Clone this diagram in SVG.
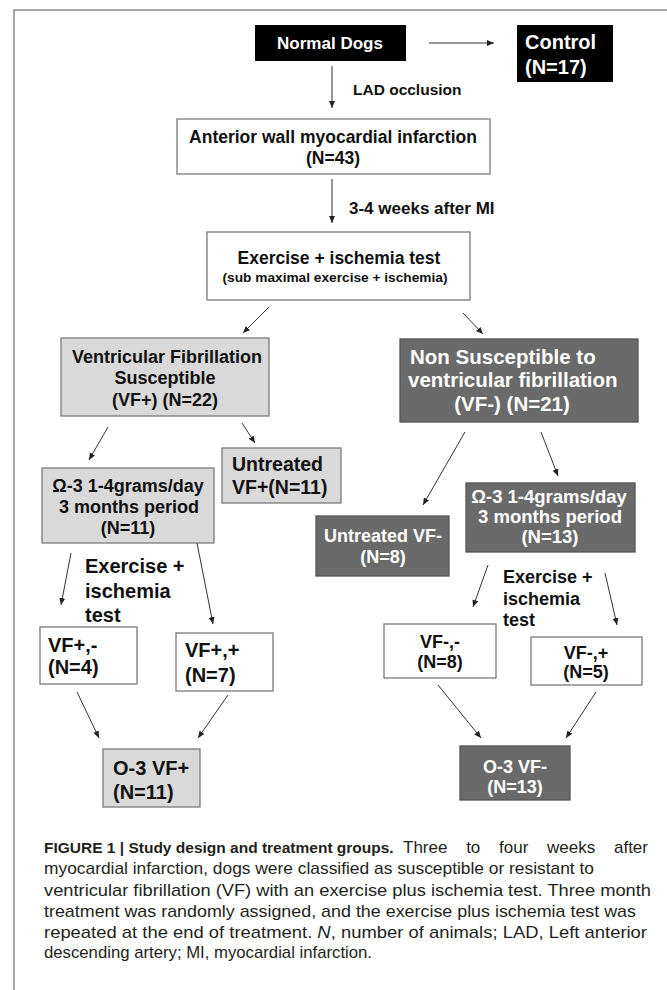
<svg xmlns="http://www.w3.org/2000/svg" width="667" height="990" viewBox="0 0 667 990">
<defs>
<marker id="ah" markerWidth="8" markerHeight="6" refX="7" refY="3" orient="auto" markerUnits="userSpaceOnUse"><path d="M0,0 L7,3 L0,6 z" fill="#222"/></marker>
</defs>
<style>
.t{font-family:"Liberation Sans",Arial,sans-serif;font-weight:bold;fill:#111}
.w{fill:#fff}
.m{text-anchor:middle}
.bw{fill:#fff;stroke:#7a7a7a;stroke-width:1.3}
.bl{fill:#d9d9d9;stroke:#7a7a7a;stroke-width:1.3}
.bd{fill:#6a6a6a;stroke:#555;stroke-width:1.3}
.bb{fill:#000}
.c line{stroke:#333;stroke-width:1;marker-end:url(#ah)}
.cap{font-family:"Liberation Sans",Arial,sans-serif;font-size:17px;fill:#231f20}
</style>
<rect width="667" height="990" fill="#fff"/>
<path d="M14,990 V10 H667" fill="none" stroke="#8a8a8a" stroke-width="1.5"/>

<g id="normal-dogs"><rect class="bb" x="255" y="25" width="151" height="36"/><text class="t w m" x="330" y="49" font-size="17">Normal Dogs</text></g>
<g id="control"><rect class="bb" x="517" y="25" width="96" height="57"/><text class="t w" x="525" y="49" font-size="20">Control</text><text class="t w" x="525" y="74" font-size="20">(N=17)</text></g>
<g id="anterior"><rect class="bw" x="177" y="119" width="313" height="55"/><text class="t m" x="333" y="143" font-size="17.5">Anterior wall myocardial infarction</text><text class="t m" x="333" y="164" font-size="17.5">(N=43)</text></g>
<g id="exercise"><rect class="bw" x="207" y="232" width="263" height="68"/><text class="t m" x="339" y="264" font-size="17.5">Exercise + ischemia test</text><text class="t m" x="335" y="282" font-size="13.5" textLength="225" lengthAdjust="spacingAndGlyphs">(sub maximal exercise + ischemia)</text></g>
<g id="vf-plus"><rect class="bl" x="61" y="338" width="208" height="78"/><text class="t m" x="167" y="363" font-size="18">Ventricular Fibrillation</text><text class="t m" x="165" y="384" font-size="18">Susceptible</text><text class="t m" x="165" y="406" font-size="18">(VF+) (N=22)</text></g>
<g id="vf-minus"><rect class="bd" x="400" y="339" width="238" height="83"/><text class="t w" x="410" y="364" font-size="20.5">Non Susceptible to</text><text class="t w" x="408" y="387" font-size="20.5">ventricular fibrillation</text><text class="t w m" x="512" y="411" font-size="20.5">(VF-) (N=21)</text></g>
<g id="omega-plus"><rect class="bl" x="42" y="468" width="172" height="75"/><text class="t m" x="128" y="492" font-size="18">Ω-3 1-4grams/day</text><text class="t m" x="129" y="513" font-size="18">3 months period</text><text class="t m" x="128" y="534" font-size="18">(N=11)</text></g>
<g id="untreated-plus"><rect class="bl" x="222" y="448" width="119" height="55"/><text class="t" x="232" y="471" font-size="19.5">Untreated</text><text class="t" x="232" y="494" font-size="19.5">VF+(N=11)</text></g>
<g id="omega-minus"><rect class="bd" x="466" y="483" width="169" height="69"/><text class="t w m" x="549" y="503" font-size="18.5">Ω-3 1-4grams/day</text><text class="t w m" x="550" y="523" font-size="18.5">3 months period</text><text class="t w m" x="550" y="543" font-size="18.5">(N=13)</text></g>
<g id="untreated-minus"><rect class="bd" x="316" y="516" width="133" height="60"/><text class="t w m" x="383" y="542" font-size="18">Untreated VF-</text><text class="t w m" x="383" y="563" font-size="18">(N=8)</text></g>
<g id="label-ex-left"><text class="t" x="85" y="573" font-size="20">Exercise +</text><text class="t" x="85" y="598" font-size="20">ischemia</text><text class="t" x="85" y="622" font-size="20">test</text></g>
<g id="label-ex-right"><text class="t" x="503" y="583" font-size="18">Exercise +</text><text class="t" x="503" y="605" font-size="18">ischemia</text><text class="t" x="503" y="626" font-size="18">test</text></g>
<g id="vfpm"><rect class="bw" x="40" y="627" width="97" height="57"/><text class="t" x="48" y="652" font-size="20">VF+,-</text><text class="t" x="48" y="674" font-size="20">(N=4)</text></g>
<g id="vfpp"><rect class="bw" x="176" y="633" width="97" height="58"/><text class="t" x="185" y="657" font-size="20">VF+,+</text><text class="t" x="185" y="682" font-size="20">(N=7)</text></g>
<g id="vfmm"><rect class="bw" x="384" y="624" width="112" height="54"/><text class="t m" x="440" y="648" font-size="18">VF-,-</text><text class="t m" x="440" y="668" font-size="18">(N=8)</text></g>
<g id="vfmp"><rect class="bw" x="531" y="637" width="111" height="48"/><text class="t m" x="586" y="659" font-size="18">VF-,+</text><text class="t m" x="586" y="678" font-size="18">(N=5)</text></g>
<g id="o3-plus"><rect class="bl" x="103" y="749" width="97" height="58"/><text class="t" x="113" y="775" font-size="20">O-3 VF+</text><text class="t" x="113" y="799" font-size="20">(N=11)</text></g>
<g id="o3-minus"><rect class="bd" x="460" y="746" width="110" height="54"/><text class="t w m" x="515" y="773" font-size="18">O-3 VF-</text><text class="t w m" x="515" y="793" font-size="18">(N=13)</text></g>

<g id="connectors" class="c">
<line x1="429" y1="43" x2="494" y2="43"/>
<line x1="332" y1="66" x2="332" y2="108"/>
<line x1="332" y1="179" x2="332" y2="223"/>
<line x1="269" y1="307" x2="243" y2="333"/>
<line x1="463" y1="313" x2="483" y2="334"/>
<line x1="108" y1="427" x2="89" y2="460"/>
<line x1="242" y1="423" x2="255" y2="443"/>
<line x1="465" y1="432" x2="423" y2="505"/>
<line x1="541" y1="432" x2="558" y2="476"/>
<line x1="71" y1="553" x2="61" y2="605"/>
<line x1="197" y1="543" x2="213" y2="624"/>
<line x1="488" y1="565" x2="473" y2="607"/>
<line x1="605" y1="573" x2="617" y2="625"/>
<line x1="77" y1="692" x2="99" y2="738"/>
<line x1="228" y1="695" x2="198" y2="738"/>
<line x1="438" y1="685" x2="481" y2="738"/>
<line x1="596" y1="692" x2="566" y2="738"/>
</g>
<text class="t" x="353" y="95" font-size="15.5">LAD occlusion</text>
<text class="t" x="349" y="214" font-size="17">3-4 weeks after MI</text>

<g id="caption">
<text class="cap" x="44" y="853"><tspan font-weight="bold" font-size="15.5">FIGURE 1 | Study design and treatment groups.</tspan><tspan x="403" word-spacing="14">Three to four weeks after</tspan></text>
<text class="cap" x="44" y="874" textLength="550" lengthAdjust="spacingAndGlyphs">myocardial infarction, dogs were classified as susceptible or resistant to</text>
<text class="cap" x="44" y="896" textLength="607" lengthAdjust="spacingAndGlyphs">ventricular fibrillation (VF) with an exercise plus ischemia test. Three month</text>
<text class="cap" x="44" y="917" textLength="592" lengthAdjust="spacingAndGlyphs">treatment was randomly assigned, and the exercise plus ischemia test was</text>
<text class="cap" x="44" y="938" textLength="603" lengthAdjust="spacingAndGlyphs">repeated at the end of treatment. <tspan font-style="italic">N</tspan>, number of animals; LAD, Left anterior</text>
<text class="cap" x="44" y="958" textLength="328" lengthAdjust="spacingAndGlyphs">descending artery; MI, myocardial infarction.</text>
</g>
</svg>
